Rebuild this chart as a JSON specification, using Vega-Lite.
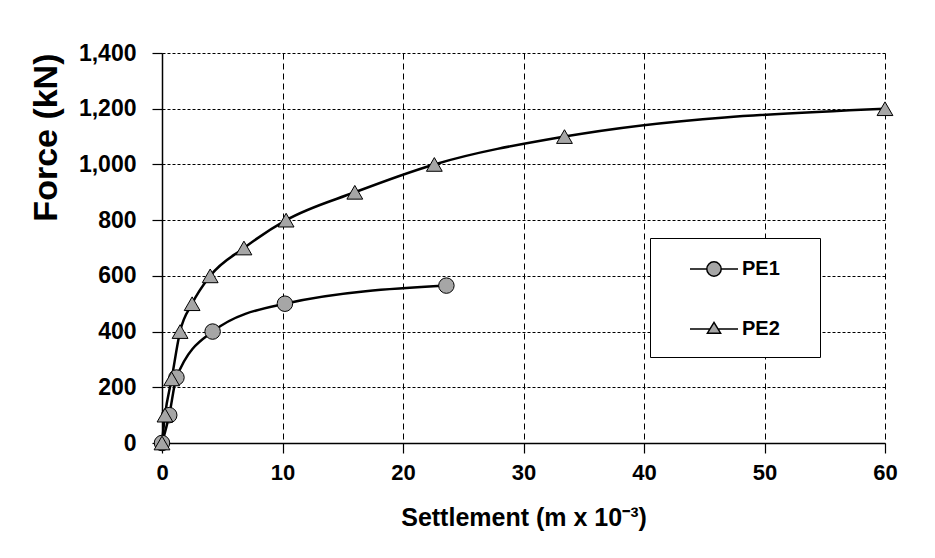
{
  "$schema": "https://vega.github.io/schema/vega-lite/v6.json",
  "width": 723,
  "height": 390,
  "autosize": {"type": "none"},
  "padding": {"left": 162, "top": 53, "right": 50, "bottom": 115},
  "background": "white",
  "config": {
    "view": {"stroke": null},
    "font": "Liberation Sans",
    "axis": {
      "labelFont": "Liberation Sans",
      "labelFontWeight": "bold",
      "labelFontSize": 23,
      "labelColor": "black",
      "titleFont": "Liberation Sans",
      "titleFontWeight": "bold",
      "titleColor": "black",
      "domainColor": "black",
      "domainWidth": 1.5,
      "tickColor": "black",
      "tickWidth": 1.2,
      "gridColor": "black",
      "gridOpacity": 1,
      "gridWidth": 1
    }
  },
  "data": {
    "values": [
      {"series": "PE1", "s": 0, "f": 0},
      {"series": "PE1", "s": 0.6, "f": 100},
      {"series": "PE1", "s": 1.2, "f": 235},
      {"series": "PE1", "s": 4.2, "f": 400},
      {"series": "PE1", "s": 10.2, "f": 500},
      {"series": "PE1", "s": 23.6, "f": 565},
      {"series": "PE2", "s": 0, "f": 0},
      {"series": "PE2", "s": 0.25, "f": 100},
      {"series": "PE2", "s": 0.8, "f": 230},
      {"series": "PE2", "s": 1.5, "f": 400},
      {"series": "PE2", "s": 2.5, "f": 500},
      {"series": "PE2", "s": 4.0, "f": 600},
      {"series": "PE2", "s": 6.8, "f": 700},
      {"series": "PE2", "s": 10.3, "f": 800},
      {"series": "PE2", "s": 16.0, "f": 900},
      {"series": "PE2", "s": 22.6, "f": 1000},
      {"series": "PE2", "s": 33.4, "f": 1100},
      {"series": "PE2", "s": 60, "f": 1200}
    ]
  },
  "encoding": {
    "x": {
      "field": "s",
      "type": "quantitative",
      "scale": {"domain": [0, 60], "nice": false, "zero": false},
      "axis": {
        "title": "Settlement (m x 10⁻³)",
        "titleFontSize": 25,
        "titlePadding": 22,
        "values": [0, 10, 20, 30, 40, 50, 60],
        "tickSize": 10,
        "labelPadding": 9,
        "labelFontSize": 22,
        "gridDash": [6, 4],
        "labelFlush": false
      }
    },
    "y": {
      "field": "f",
      "type": "quantitative",
      "scale": {"domain": [0, 1400], "nice": false},
      "axis": {
        "title": "Force (kN)",
        "titleFontSize": 34,
        "titleAngle": -90,
        "titleAlign": "right",
        "titleY": 0,
        "titlePadding": 15,
        "values": [0, 200, 400, 600, 800, 1000, 1200, 1400],
        "format": ",d",
        "tickSize": 10,
        "labelPadding": 16,
        "gridDash": [3, 2],
        "labelFlush": false
      }
    }
  },
  "layer": [
    {
      "mark": {"type": "line", "interpolate": "monotone", "color": "black", "strokeWidth": 2.5, "clip": false},
      "encoding": {"detail": {"field": "series"}}
    },
    {
      "transform": [{"filter": "datum.series === 'PE1'"}],
      "mark": {"type": "point", "shape": "circle", "filled": true, "fill": "#a6a6a6", "stroke": "black", "strokeWidth": 1, "opacity": 1, "size": 240, "clip": false}
    },
    {
      "transform": [{"filter": "datum.series === 'PE2'"}],
      "mark": {"type": "point", "shape": "triangle-up", "filled": true, "fill": "#a6a6a6", "stroke": "black", "strokeWidth": 1, "opacity": 1, "size": 250, "clip": false}
    },
    {
      "transform": [{"filter": "datum.f < 0"}],
      "mark": {"type": "point", "filled": true, "fill": "#a6a6a6", "stroke": "black", "strokeWidth": 2, "opacity": 1, "size": 576},
      "encoding": {
        "shape": {
          "field": "series",
          "type": "nominal",
          "scale": {
            "domain": ["PE1", "PE2"],
            "range": [
              "M0.75,0H2.15M3.35,0H4.75M3.35,0A0.6,0.6 0 1,1 2.15,0A0.6,0.6 0 1,1 3.35,0Z",
              "M0.75,0H2.41M3.09,0H4.75M2.75,-0.55L3.3,0.35L2.2,0.35Z"
            ]
          },
          "legend": {
            "title": "x",
            "titleOrient": "right",
            "titleFontSize": 10,
            "titlePadding": 16,
            "titleOpacity": 0,
            "orient": "none",
            "legendX": 488,
            "legendY": 185,
            "strokeColor": "black",
            "fillColor": "white",
            "padding": 18,
            "rowPadding": 36,
            "labelFont": "Liberation Sans",
            "labelFontSize": 20,
            "labelFontWeight": "bold",
            "labelColor": "black",
            "labelOffset": 48,
            "symbolSize": 576,
            "encode": {
              "symbols": {
                "size": {"value": 576},
                "fill": {"value": "#a6a6a6"},
                "stroke": {"value": "black"},
                "strokeWidth": {"value": 2},
                "opacity": {"value": 1}
              }
            }
          }
        }
      }
    }
  ]
}
